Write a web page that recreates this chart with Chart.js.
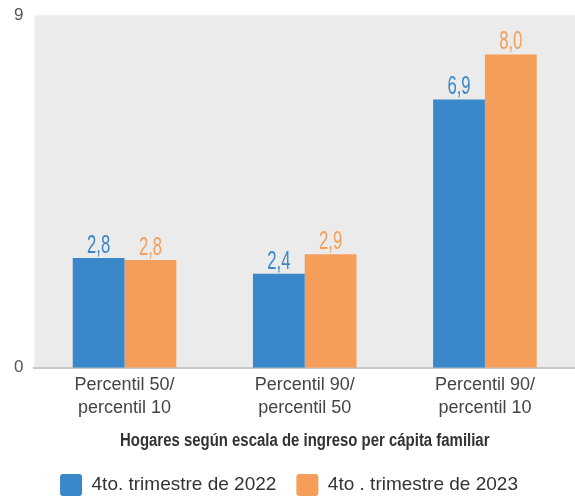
<!DOCTYPE html>
<html>
<head>
<meta charset="utf-8">
<script src="https://cdn.jsdelivr.net/npm/chart.js@4"></script>
<style>
  html, body { margin: 0; padding: 0; background: #fff; }
</style>
</head>
<body>
<canvas id="ratioChart" width="575" height="500"></canvas>
<script>
const categorias = [
  ["Percentil 50/", "percentil 10"],
  ["Percentil 90/", "percentil 50"],
  ["Percentil 90/", "percentil 10"],
];
const valores2022 = [2.8, 2.4, 6.85];
const valores2023 = [2.75, 2.9, 8.0];
const etiquetas2022 = ["2,8", "2,4", "6,9"];
const etiquetas2023 = ["2,8", "2,9", "8,0"];
const ticksY = [0, 9];
const tituloX = "Hogares según escala de ingreso per cápita familiar";

const azul = "#3a87c9";
const naranja = "#f59e5a";

// fondo gris del area de grafico
const fondoPlugin = {
  id: "fondo",
  beforeDraw(chart) {
    const { ctx, chartArea: a } = chart;
    ctx.save();
    ctx.fillStyle = "#ebebeb";
    ctx.fillRect(a.left, a.top, a.right - a.left, a.bottom - a.top);
    ctx.restore();
  },
};

// texto estrecho (fuente condensada simulada)
function textoEstrecho(ctx, txt, x, y, escala) {
  ctx.save();
  ctx.translate(x, y);
  ctx.scale(escala, 1);
  ctx.fillText(txt, 0, 0);
  ctx.restore();
}

// etiquetas de valor sobre cada barra + titulo del eje x
const valoresPlugin = {
  id: "valores",
  afterDatasetsDraw(chart) {
    const ctx = chart.ctx;
    ctx.save();
    ctx.font = "26px 'Liberation Sans', Arial, sans-serif";
    ctx.textAlign = "center";
    ctx.textBaseline = "alphabetic";
    chart.data.datasets.forEach((ds, i) => {
      chart.getDatasetMeta(i).data.forEach((bar, j) => {
        ctx.fillStyle = ds.backgroundColor;
        textoEstrecho(ctx, ds.etiquetas[j], bar.x, bar.y - 5, 0.64);
      });
    });
    ctx.restore();
  },
  afterDraw(chart) {
    const ctx = chart.ctx;
    const a = chart.chartArea;
    ctx.save();
    ctx.font = "bold 18px 'Liberation Sans', Arial, sans-serif";
    ctx.fillStyle = "#333";
    ctx.textAlign = "center";
    ctx.textBaseline = "middle";
    textoEstrecho(ctx, tituloX, (a.left + a.right) / 2, a.bottom + 73, 0.83);
    ctx.restore();
  },
};

const ctx = document.getElementById("ratioChart").getContext("2d");
const ratioChart = new Chart(ctx, {
  type: "bar",
  data: {
    labels: categorias,
    datasets: [
      {
        label: "4to. trimestre de 2022",
        data: valores2022,
        etiquetas: etiquetas2022,
        backgroundColor: azul,
        categoryPercentage: 0.575,
        barPercentage: 1,
      },
      {
        label: "4to . trimestre de 2023",
        data: valores2023,
        etiquetas: etiquetas2023,
        backgroundColor: naranja,
        categoryPercentage: 0.575,
        barPercentage: 1,
      },
    ],
  },
  options: {
    responsive: false,
    animation: false,
    layout: { padding: { left: 3, top: 14, right: 0, bottom: -6 } },
    plugins: {
      legend: {
        position: "bottom",
        labels: {
          boxWidth: 22,
          boxHeight: 22,
          useBorderRadius: true,
          borderRadius: 3,
          padding: 20,
          color: "#333",
          font: { family: "'Liberation Sans', Arial, sans-serif", size: 19 },
        },
      },
      tooltip: { enabled: false },
    },
    scales: {
      x: {
        grid: { display: false, drawTicks: false },
        border: { display: true, color: "#c8c8c8", width: 2 },
        ticks: {
          color: "#444",
          padding: 6,
          font: { family: "'Liberation Sans', Arial, sans-serif", size: 18, lineHeight: 1.25 },
        },
        title: {
          display: true,
          text: tituloX,
          color: "rgba(0,0,0,0)",
          padding: { top: 10, bottom: 0 },
          font: { family: "'Liberation Sans', Arial, sans-serif", size: 16, weight: "bold" },
        },
      },
      y: {
        min: ticksY[0],
        max: ticksY[1],
        grid: { display: false, drawTicks: false },
        border: { display: false },
        afterBuildTicks(scale) {
          scale.ticks = ticksY.map((v) => ({ value: v }));
        },
        ticks: {
          color: "#555",
          padding: 11,
          font: { family: "'Liberation Sans', Arial, sans-serif", size: 17, lineHeight: 0.5 },
        },
      },
    },
  },
  plugins: [fondoPlugin, valoresPlugin],
});
</script>
</body>
</html>
